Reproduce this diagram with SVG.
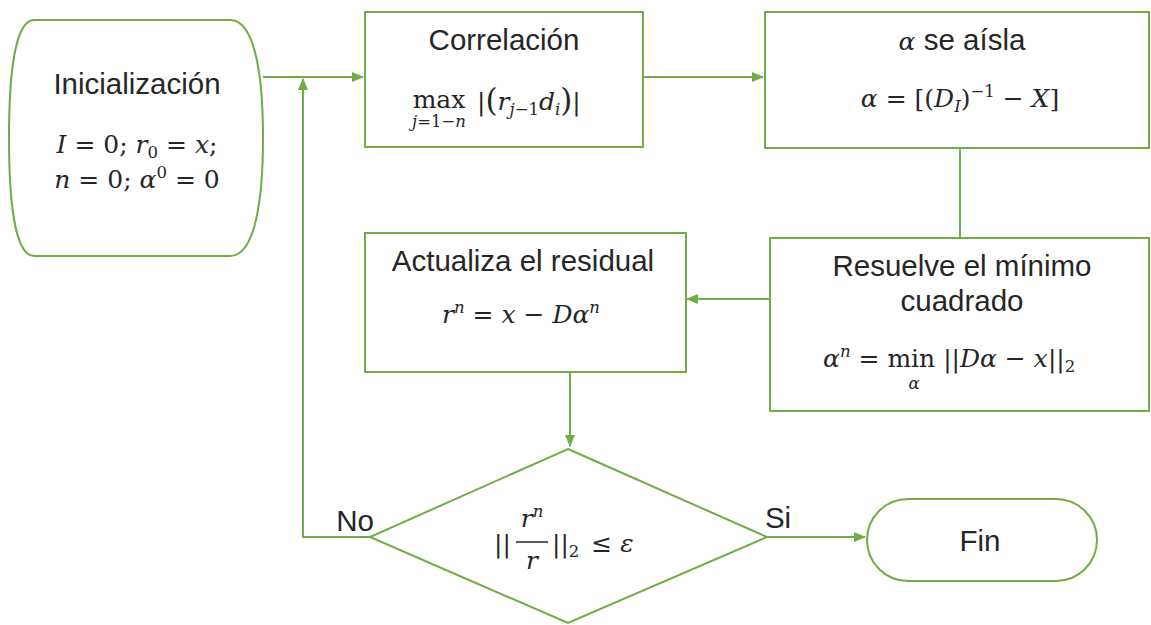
<svg xmlns="http://www.w3.org/2000/svg" width="1151" height="625" viewBox="0 0 1151 625">
<style>
.node{fill:#fff;stroke:#70AD47;stroke-width:2}
.conn{fill:none;stroke:#70AD47;stroke-width:2}
.lbl{font-family:"Liberation Sans",Arial,sans-serif;font-size:29.5px;fill:#262626;text-anchor:middle}
.m{font-family:"DejaVu Serif","Liberation Serif",serif;font-size:25px;fill:#262626;font-style:italic}
.u{font-style:normal}
.s{font-size:16.5px}
</style>
<defs>
<marker id="ah" markerWidth="12" markerHeight="10" refX="11" refY="5" orient="auto" markerUnits="userSpaceOnUse">
<path d="M0,0 L12,5 L0,10 Z" fill="#70AD47"/>
</marker>
</defs>
<g id="connectors">
<path class="conn" d="M263,77 H363" marker-end="url(#ah)"/>
<path class="conn" d="M643,77 H763" marker-end="url(#ah)"/>
<path class="conn" d="M960,148 V238"/>
<path class="conn" d="M770,299 H687" marker-end="url(#ah)"/>
<path class="conn" d="M570,372 V446" marker-end="url(#ah)"/>
<path class="conn" d="M370,537 H303 V79" marker-end="url(#ah)"/>
<path class="conn" d="M767,537 H865" marker-end="url(#ah)"/>
<text class="lbl" x="355" y="531">No</text>
<text class="lbl" x="778" y="528">Si</text>
</g>
<g id="inicializacion">
<path class="node" d="M34,20 H230 C256,20 263,80 263,138 C263,196 256,256 230,256 H34 C14,256 9,196 9,138 C9,80 14,20 34,20 Z"/>
<text class="lbl" x="137" y="94">Inicialización</text>
<text class="m" x="137" y="153" text-anchor="middle">I<tspan class="u"> = 0; </tspan>r<tspan class="u s" dy="5">0</tspan><tspan class="u" dy="-5"> = </tspan>x<tspan class="u">;</tspan></text>
<text class="m" x="137" y="188" text-anchor="middle">n<tspan class="u"> = 0; </tspan>α<tspan class="u s" dy="-10">0</tspan><tspan class="u" dy="10"> = 0</tspan></text>
</g>
<g id="correlacion">
<rect class="node" x="365" y="12" width="278" height="135"/>
<text class="lbl" x="504" y="50">Correlación</text>
<text class="m u" x="439" y="108" text-anchor="middle">max</text>
<text class="m s" x="439" y="127" text-anchor="middle">j<tspan class="u">=1−</tspan>n</text>
<text class="m" x="477" y="110"><tspan class="u">|</tspan><tspan class="u" font-size="31" dy="1">(</tspan><tspan dy="-1">r</tspan><tspan class="s" dy="5">j<tspan class="u">−1</tspan></tspan><tspan dy="-5">d</tspan><tspan class="s" dy="5">i</tspan><tspan class="u" font-size="31" dy="-4">)</tspan><tspan class="u" dy="-1">|</tspan></text>
</g>
<g id="aisla">
<rect class="node" x="765" y="12" width="384" height="136"/>
<text class="lbl" x="962" y="50"><tspan class="m" font-size="25">α</tspan> se aísla</text>
<text class="m" x="960" y="107" text-anchor="middle">α<tspan class="u"> = [(</tspan>D<tspan class="s" dy="5">I</tspan><tspan class="u" dy="-5">)</tspan><tspan class="u s" dy="-10">−1</tspan><tspan class="u" dy="10"> − </tspan>X<tspan class="u">]</tspan></text>
</g>
<g id="resuelve">
<rect class="node" x="770" y="238" width="379" height="173"/>
<text class="lbl" x="962" y="276">Resuelve el mínimo</text>
<text class="lbl" x="962" y="311">cuadrado</text>
<text class="m" x="823" y="367">α<tspan class="s" dy="-10">n</tspan><tspan class="u" dy="10"> = </tspan><tspan class="u">min</tspan><tspan class="u"> ||</tspan>Dα<tspan class="u"> − </tspan>x<tspan class="u">||</tspan><tspan class="u s" dy="5">2</tspan></text>
<text class="m s" x="914" y="389" text-anchor="middle">α</text>
</g>
<g id="actualiza">
<rect class="node" x="365" y="233" width="321" height="139"/>
<text class="lbl" x="523" y="271">Actualiza el residual</text>
<text class="m" x="521" y="323" text-anchor="middle">r<tspan class="s" dy="-10">n</tspan><tspan class="u" dy="10"> = </tspan>x<tspan class="u"> − </tspan>Dα<tspan class="s" dy="-10">n</tspan></text>
</g>
<g id="decision">
<path class="node" d="M568,449 L767,537 L568,623 L370,537 Z"/>
<text class="m u" x="494" y="552">||</text>
<text class="m" x="532" y="527" text-anchor="middle">r<tspan class="s" dy="-10">n</tspan></text>
<line x1="516" y1="542" x2="548" y2="542" stroke="#262626" stroke-width="1.5"/>
<text class="m" x="532" y="569" text-anchor="middle">r</text>
<text class="m" x="552" y="552"><tspan class="u">||</tspan><tspan class="u s" dy="5">2</tspan><tspan class="u" dy="-5" dx="12">≤ </tspan>ε</text>
</g>
<g id="fin">
<rect class="node" x="867" y="499" width="230" height="82" rx="41" ry="41"/>
<text class="lbl" x="980" y="551">Fin</text>
</g>
</svg>
